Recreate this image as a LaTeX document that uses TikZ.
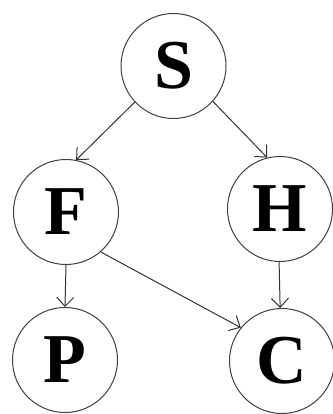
\documentclass[tikz,border=0pt]{standalone}
\usepackage{fontspec}
\setmainfont{Liberation Serif}
\usetikzlibrary{arrows.meta}
\begin{document}
\begin{tikzpicture}[x=1pt,y=-1pt,
  state/.style={circle,draw=black!75,line width=1pt,minimum size=105pt,inner sep=0pt,
    font=\fontsize{70}{70}\selectfont\bfseries},
  edge/.style={draw=black!80,line width=1pt,-{Straight Barb[length=9pt,width=17pt,line width=1pt]}}]
  \useasboundingbox (0,0) rectangle (332,414);
  \node[state] (S) at (173.5,66) {S};
  \node[state] (F) at (66,212) {F};
  \node[state] (H) at (280,209) {H};
  \node[state] (P) at (65,360) {P};
  \node[state] (C) at (282,361) {C};
  \draw[edge] (S.223) -- (F.79);
  \draw[edge] (S.-42) -- (H.104);
  \draw[edge] (F.south) -- (P.north);
  \draw[edge] (H.-91) -- (C.92);
  \draw[edge] (F.-49) -- (C.141);
\end{tikzpicture}
\end{document}
